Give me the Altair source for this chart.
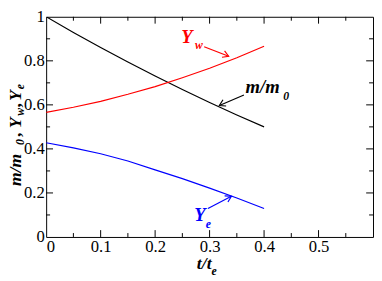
import altair as alt
import pandas as pd

# ---- data ----
t = [0.0, 0.05, 0.10, 0.15, 0.20, 0.25, 0.30, 0.35, 0.40]
m_m0 = [1.000, 0.929, 0.861, 0.795, 0.731, 0.670, 0.611, 0.554, 0.500]
Y_w = [0.566, 0.589, 0.616, 0.648, 0.683, 0.723, 0.766, 0.814, 0.866]
Y_e = [0.428, 0.405, 0.378, 0.345, 0.305, 0.265, 0.222, 0.177, 0.129]

x_labels = [0.0, 0.1, 0.2, 0.3, 0.4, 0.5]
y_labels = [0.0, 0.2, 0.4, 0.6, 0.8, 1.0]
x_major = [0.1, 0.2, 0.3, 0.4, 0.5]
x_minor = [0.05, 0.15, 0.25, 0.35, 0.45, 0.55]
y_major = [0.2, 0.4, 0.6, 0.8]
y_minor = [0.1, 0.3, 0.5, 0.7, 0.9]

W, H = 334, 225
FONT = "Liberation Serif"
RED, BLUE, BLACK = "#ff0000", "#0000ff", "#000000"

xs = alt.Scale(domain=[0, 0.6], nice=False, zero=False)
ys = alt.Scale(domain=[0, 1], nice=False, zero=False)

series = pd.DataFrame({
    "t": t * 3,
    "v": m_m0 + Y_w + Y_e,
    "s": ["m"] * len(t) + ["w"] * len(t) + ["e"] * len(t),
})

lines = alt.Chart(series).mark_line(strokeWidth=1.2, clip=True).encode(
    x=alt.X("t:Q", scale=xs, axis=alt.Axis(
        values=x_labels, tickSize=0, domain=False, grid=False,
        labelExpr="datum.value == 0 ? '0' : format(datum.value, '.1f')",
        labelFont=FONT, labelFontSize=17, labelColor="black", labelPadding=2,
        title=None)),
    y=alt.Y("v:Q", scale=ys, axis=alt.Axis(
        values=y_labels, tickSize=0, domain=False, grid=False,
        labelExpr="datum.value == 0 ? '0' : datum.value == 1 ? '1' : format(datum.value, '.1f')",
        labelFont=FONT, labelFontSize=17, labelColor="black", labelPadding=2,
        title=None)),
    color=alt.Color("s:N", scale=alt.Scale(domain=["m", "w", "e"], range=[BLACK, RED, BLUE]), legend=None),
)

def tick_layer(vals, axis, length):
    df = pd.DataFrame({"v": vals})
    layers = []
    if axis == "x":
        for y0, y1 in [(H, H - length), (0, length)]:
            layers.append(alt.Chart(df).mark_rule(color="black", strokeWidth=1).encode(
                x=alt.X("v:Q", scale=xs), y=alt.value(y0), y2=alt.value(y1)))
    else:
        for x0, x1 in [(0, length), (W, W - length)]:
            layers.append(alt.Chart(df).mark_rule(color="black", strokeWidth=1).encode(
                y=alt.Y("v:Q", scale=ys), x=alt.value(x0), x2=alt.value(x1)))
    return layers

ticks = (tick_layer(x_major, "x", 7) + tick_layer(x_minor, "x", 4)
         + tick_layer(y_major, "y", 7) + tick_layer(y_minor, "y", 4))

one = pd.DataFrame({"a": [0]})

def dtext(txt, x, y, color, size):
    return alt.Chart(one).mark_text(
        text=txt, font=FONT, fontStyle="italic", fontWeight="bold",
        fontSize=size, color=color, align="left", baseline="alphabetic",
    ).encode(x=alt.datum(x, scale=xs), y=alt.datum(y, scale=ys))

def ptext(txt, x, y, size, angle=0):
    return alt.Chart(one).mark_text(
        text=txt, font=FONT, fontStyle="italic", fontWeight="bold",
        fontSize=size, color="black", align="left", baseline="alphabetic", angle=angle,
    ).encode(x=alt.value(x), y=alt.value(y))

def arrow(x0, y0, x1, y1, ang, color):
    seg = alt.Chart(pd.DataFrame({"x0": [x0], "y0": [y0], "x1": [x1], "y1": [y1]})).mark_rule(
        color=color, strokeWidth=1.2).encode(
        x=alt.X("x0:Q", scale=xs), y=alt.Y("y0:Q", scale=ys),
        x2="x1:Q", y2="y1:Q")
    head = alt.Chart(pd.DataFrame({"x": [x1], "y": [y1]})).mark_point(
        shape="M -1 -0.6 L 0 0 L -1 0.6", filled=False, size=140, angle=ang,
        color=color, strokeWidth=1.2, opacity=1).encode(
        x=alt.X("x:Q", scale=xs), y=alt.Y("y:Q", scale=ys))
    return [seg, head]

annots = [
    dtext("Y", 0.248, 0.880, RED, 19),
    dtext("w", 0.273, 0.852, RED, 12),
    dtext("m/m", 0.366, 0.652, BLACK, 19),
    dtext("0", 0.435, 0.622, BLACK, 12),
    dtext("Y", 0.272, 0.072, BLUE, 19),
    dtext("e", 0.293, 0.042, BLUE, 12),
]
annots += arrow(0.290, 0.864, 0.335, 0.821, 21.8, RED)
annots += arrow(0.363, 0.645, 0.318, 0.597, 153.0, BLACK)
annots += arrow(0.297, 0.129, 0.340, 0.185, 331.6, BLUE)

# axis titles (pixel positions relative to plot area)
titles = [
    ptext("m/m", -26, 173, 18, 270),
    ptext("0", -23, 131, 12, 270),
    ptext(",", -26, 122, 18, 270),
    ptext("Y", -26, 114, 18, 270),
    ptext("w", -23, 101, 12, 270),
    ptext(",", -26, 92, 18, 270),
    ptext("Y", -26, 86, 18, 270),
    ptext("e", -23, 74, 12, 270),
    ptext("t/t", 154, 258, 18),
    ptext("e", 169, 264, 12),
]

chart = alt.layer(lines, *ticks, *annots, *titles).properties(
    width=W, height=H,
    autosize=alt.AutoSizeParams(type="none"),
    padding={"left": 39, "top": 6, "right": 1, "bottom": 42},
).configure_view(stroke="black", strokeWidth=1)

chart.save("out.html", embed_options={"renderer": "svg", "actions": False})
